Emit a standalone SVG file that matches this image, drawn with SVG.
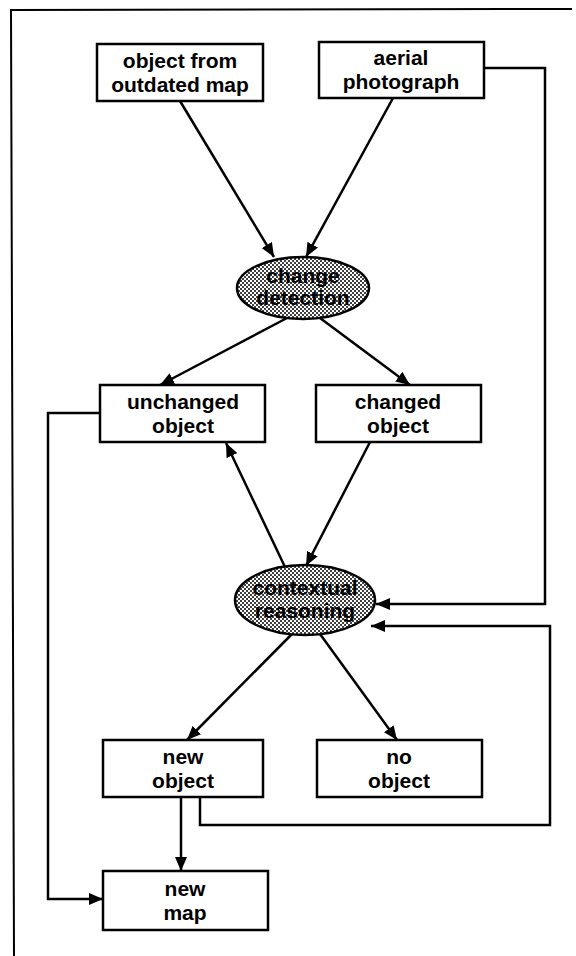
<svg xmlns="http://www.w3.org/2000/svg" width="576" height="956" viewBox="0 0 576 956">
  <defs>
    <!-- halftone screen used for the process ellipses -->
    <pattern id="dots" width="4" height="4" patternUnits="userSpaceOnUse">
      <rect width="4" height="4" fill="#ffffff"/>
      <circle cx="1" cy="1" r="1" fill="#000"/>
      <circle cx="3" cy="3" r="1" fill="#000"/>
    </pattern>
    <marker id="arrow" viewBox="0 0 14 12" refX="14" refY="6" markerWidth="14" markerHeight="12" markerUnits="userSpaceOnUse" orient="auto">
      <path d="M0,0 L14,6 L0,12 z" fill="#000"/>
    </marker>
  </defs>
  <style>
    .box { fill: #fff; stroke: #000; stroke-width: 2.5; }
    .proc { fill: url(#dots); stroke: #000; stroke-width: 2.5; }
    .lbl { font-family: "Liberation Sans", Arial, sans-serif; font-size: 21px; font-weight: bold; text-anchor: middle; fill: #000; }
    .edge { fill: none; stroke: #000; stroke-width: 2.5; marker-end: url(#arrow); }
    .frame { fill: none; stroke: #000; stroke-width: 2; }
  </style>

  <rect width="576" height="956" fill="#fff"/>

  <!-- page frame (top and left rules) -->
  <polyline class="frame" points="572,9 11,10 14,956"/>

  <g id="connectors">
    <line class="edge" x1="180" y1="101" x2="274" y2="257"/>
    <line class="edge" x1="393" y1="98" x2="306" y2="257"/>
    <line class="edge" x1="287" y1="318" x2="160" y2="385"/>
    <line class="edge" x1="320" y1="318" x2="410" y2="385"/>
    <line class="edge" x1="285" y1="567" x2="226" y2="443"/>
    <line class="edge" x1="370" y1="442" x2="306" y2="566"/>
    <polyline class="edge" points="484,68 545,68 545,604 376,604"/>
    <polyline class="edge" points="200,797 200,825 550,825 550,626 371,626"/>
    <line class="edge" x1="292" y1="634" x2="187" y2="740"/>
    <line class="edge" x1="320" y1="634" x2="397" y2="740"/>
    <line class="edge" x1="181" y1="797" x2="181" y2="871"/>
    <polyline class="edge" points="100,413 48,413 48,899 103,899"/>
  </g>

  <g id="outdated-map">
    <rect class="box" x="97" y="44" width="166" height="57"/>
    <text class="lbl" x="180" y="68">object from</text>
    <text class="lbl" x="180" y="92">outdated map</text>
  </g>

  <g id="aerial-photograph">
    <rect class="box" x="319" y="42" width="165" height="56"/>
    <text class="lbl" x="401" y="65">aerial</text>
    <text class="lbl" x="401" y="89">photograph</text>
  </g>

  <g id="change-detection">
    <ellipse class="proc" cx="303" cy="288" rx="66" ry="31"/>
    <text class="lbl" x="303" y="283">change</text>
    <text class="lbl" x="303" y="305">detection</text>
  </g>

  <g id="unchanged-object">
    <rect class="box" x="100" y="385" width="165" height="57"/>
    <text class="lbl" x="183" y="409">unchanged</text>
    <text class="lbl" x="183" y="433">object</text>
  </g>

  <g id="changed-object">
    <rect class="box" x="316" y="385" width="165" height="57"/>
    <text class="lbl" x="398" y="409">changed</text>
    <text class="lbl" x="398" y="433">object</text>
  </g>

  <g id="contextual-reasoning">
    <ellipse class="proc" cx="305" cy="600" rx="70" ry="35"/>
    <text class="lbl" x="305" y="595">contextual</text>
    <text class="lbl" x="305" y="618">reasoning</text>
  </g>

  <g id="new-object">
    <rect class="box" x="103" y="740" width="160" height="57"/>
    <text class="lbl" x="183" y="764">new</text>
    <text class="lbl" x="183" y="788">object</text>
  </g>

  <g id="no-object">
    <rect class="box" x="317" y="740" width="165" height="57"/>
    <text class="lbl" x="399" y="764">no</text>
    <text class="lbl" x="399" y="788">object</text>
  </g>

  <g id="new-map">
    <rect class="box" x="103" y="871" width="165" height="59"/>
    <text class="lbl" x="185" y="896">new</text>
    <text class="lbl" x="185" y="920">map</text>
  </g>
</svg>
